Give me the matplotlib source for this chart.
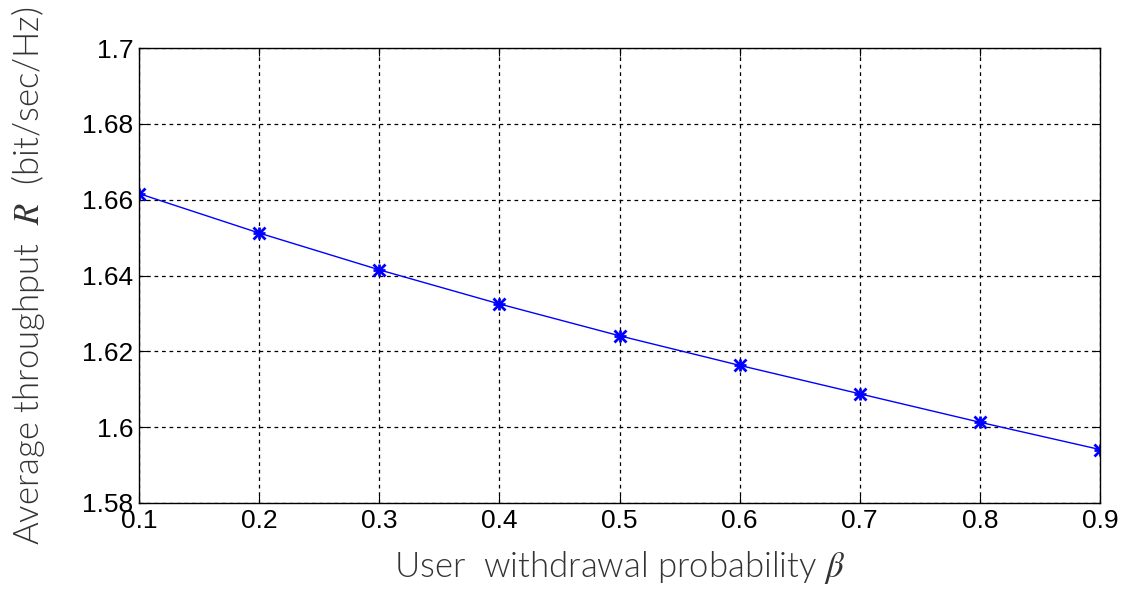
import matplotlib
matplotlib.use("Agg")
import matplotlib.pyplot as plt

beta = [0.1, 0.2, 0.3, 0.4, 0.5, 0.6, 0.7, 0.8, 0.9]
throughput = [1.6616, 1.6512, 1.6415, 1.6325, 1.6241, 1.6163, 1.6088, 1.6013, 1.5941]

x_ticks = [0.1, 0.2, 0.3, 0.4, 0.5, 0.6, 0.7, 0.8, 0.9]
y_ticks = [1.58, 1.6, 1.62, 1.64, 1.66, 1.68, 1.7]
y_tick_labels = ["1.58", "1.6", "1.62", "1.64", "1.66", "1.68", "1.7"]

plt.rcParams["mathtext.fontset"] = "stix"

fig = plt.figure(figsize=(11.26, 5.89), dpi=100, facecolor="white")
ax = fig.add_axes((139 / 1126, 1 - 503 / 589, 961 / 1126, 455 / 589))

ax.plot(beta, throughput, color="#0000FF", linewidth=1.0,
        marker="x", markersize=8, markeredgewidth=2)
ax.plot(beta, throughput, color="#0000FF", linestyle="none",
        marker="+", markersize=8, markeredgewidth=2)

ax.set_xlim(0.1, 0.9)
ax.set_ylim(1.58, 1.7)
ax.set_xticks(x_ticks)
ax.set_xticklabels([f"{v:g}" for v in x_ticks])
ax.set_yticks(y_ticks)
ax.set_yticklabels(y_tick_labels)

ax.grid(True, color="black", linestyle=(0, (3, 3)), linewidth=0.9)
ax.tick_params(direction="in", length=6, top=True, right=True,
               labelsize=19, pad=4)
for lab in ax.get_xticklabels() + ax.get_yticklabels():
    lab.set_family("Liberation Sans")
for spine in ax.spines.values():
    spine.set_color("black")
    spine.set_linewidth(1.0)

ax.set_xlabel(r"User  withdrawal probability $\beta$",
              fontsize=25, family="Lato", fontweight=300,
              color="#333333", labelpad=12)
ax.set_ylabel(r"Average throughput  $R$  (bit/sec/Hz)",
              fontsize=25, family="Lato", fontweight=300,
              color="#333333", labelpad=25)

fig.savefig("out.png", dpi=100, facecolor="white")
